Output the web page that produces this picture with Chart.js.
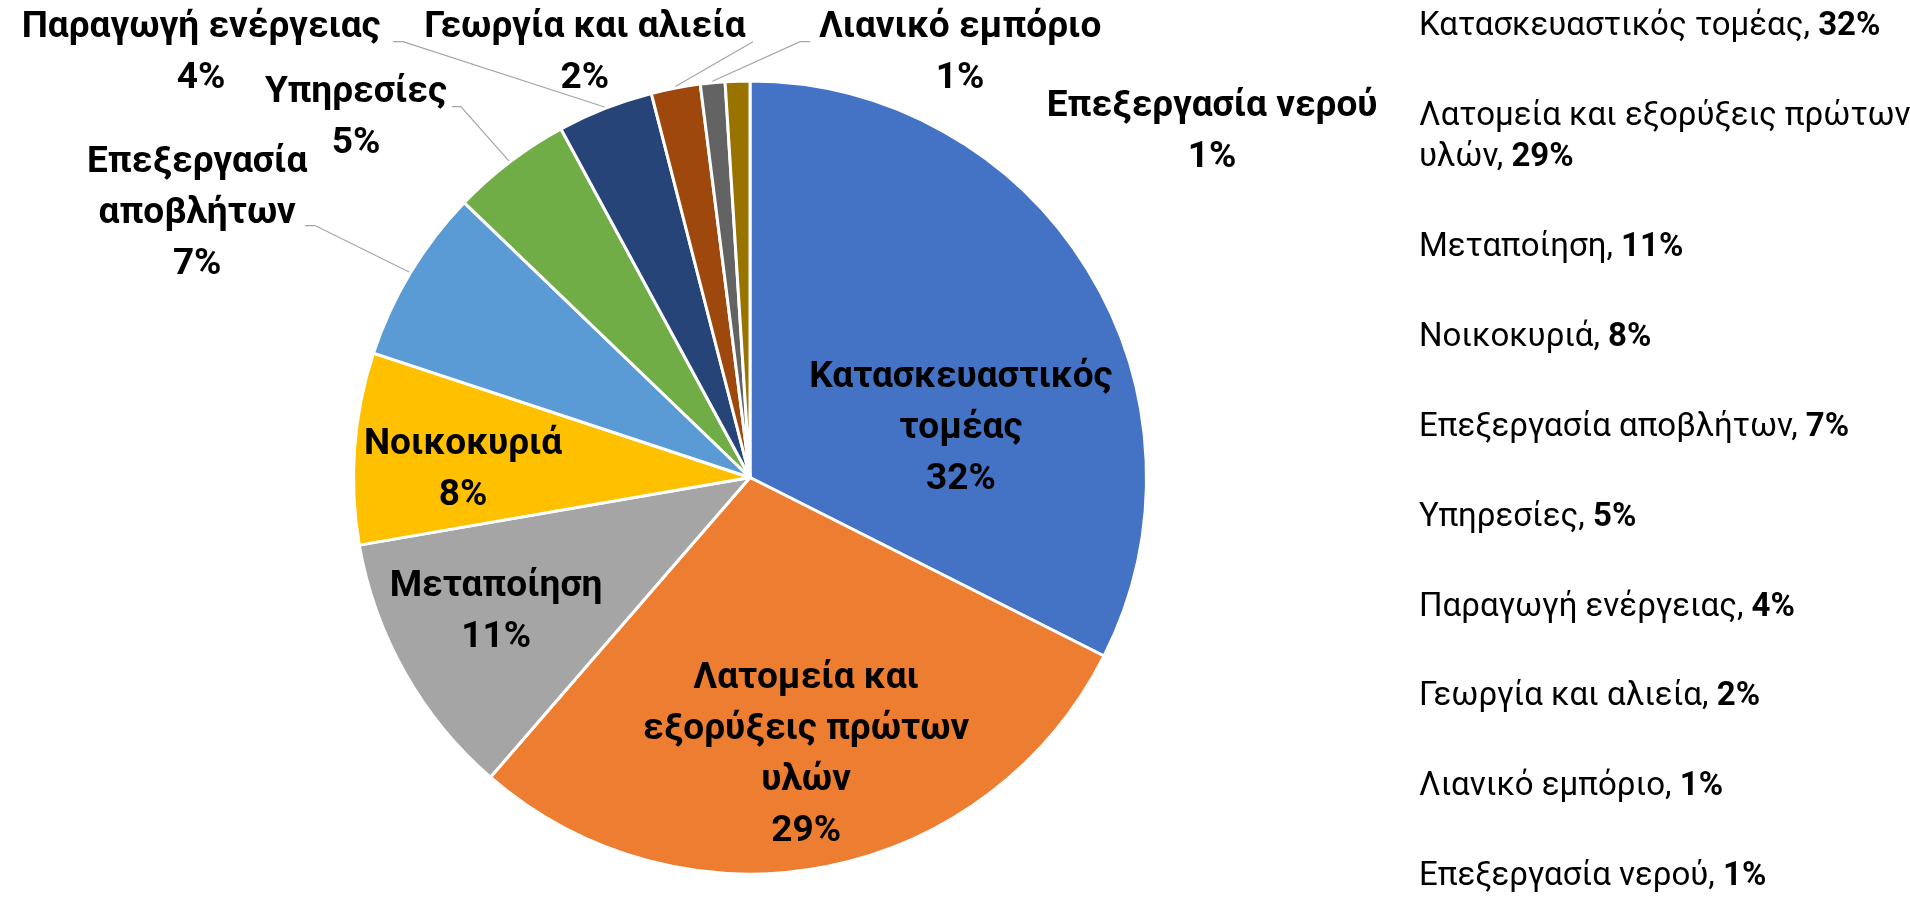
<!DOCTYPE html>
<html>
<head>
<meta charset="utf-8">
<script src="https://cdn.jsdelivr.net/npm/chart.js@4"></script>
<style>
  html, body { margin: 0; padding: 0; background: #fff; }
  #wrap { width: 1910px; height: 897px; position: relative; }
</style>
</head>
<body>
<div id="wrap"><canvas id="pieChart"></canvas></div>
<script>
// Sectors and their share (%)
const sectors = [
  'Κατασκευαστικός τομέας',
  'Λατομεία και εξορύξεις πρώτων υλών',
  'Μεταποίηση',
  'Νοικοκυριά',
  'Επεξεργασία αποβλήτων',
  'Υπηρεσίες',
  'Παραγωγή ενέργειας',
  'Γεωργία και αλιεία',
  'Λιανικό εμπόριο',
  'Επεξεργασία νερού'
];
const shares = [32.4, 28.9, 10.9, 7.8, 7.1, 4.9, 3.9, 2.0, 1.0, 1.0];
const sliceColors = ['#4472C4', '#ED7D31', '#A5A5A5', '#FFC000', '#5B9BD5',
                     '#70AD47', '#264478', '#9E480E', '#636363', '#997300'];

// label placement, in units of the pie radius from its centre
// (wrap = max line width, lead = start of the leader line, knee = short flat bit)
const labelSpots = [
  { dx: 0.53,   dy: -0.123, wrap: 320 },
  { dx: 0.141,  dy: 0.698,  wrap: 350 },
  { dx: -0.638, dy: 0.339,  wrap: 300 },
  { dx: -0.721, dy: -0.018, wrap: 300 },
  { dx: -1.389, dy: -0.663, wrap: 200, lead: [-1.118, -0.633], knee: 10 },
  { dx: -0.99,  dy: -0.902, wrap: 300, lead: [-0.749, -0.932], knee: 9 },
  { dx: -1.379, dy: -1.065, wrap: 420, lead: [-0.897, -1.095], knee: 10 },
  { dx: -0.415, dy: -1.065, wrap: 420, lead: [0.0075, -1.095], knee: 0 },
  { dx: 0.528,  dy: -1.065, wrap: 420, lead: [0.151, -1.095], knee: -10 },
  { dx: 1.161,  dy: -0.867, wrap: 420 }
];

const FONT = 'Roboto, "Noto Sans", sans-serif';
const total = shares.reduce((a, b) => a + b, 0);
const pct = (v) => Math.round(v / total * 100) + '%';

function wrapWords(ctx, text, maxW) {
  const words = text.split(' ');
  const lines = [];
  let line = '';
  words.forEach(w => {
    const test = line ? line + ' ' + w : w;
    if (line && ctx.measureText(test).width > maxW) {
      lines.push(line);
      line = w;
    } else {
      line = test;
    }
  });
  if (line) lines.push(line);
  return lines;
}

const sliceLabels = {
  id: 'sliceLabels',
  afterDatasetsDraw(chart) {
    const ctx = chart.ctx;
    const arcs = chart.getDatasetMeta(0).data;
    ctx.save();
    arcs.forEach((arc, i) => {
      const p = arc.getProps(['x', 'y', 'outerRadius', 'startAngle', 'endAngle'], true);
      const r = p.outerRadius + 1.5;
      const spot = labelSpots[i];

      // leader line
      if (spot.lead) {
        const mid = (p.startAngle + p.endAngle) / 2;
        const sx = p.x + spot.lead[0] * r;
        const sy = p.y + spot.lead[1] * r;
        ctx.strokeStyle = '#A6A6A6';
        ctx.lineWidth = 1.2;
        ctx.beginPath();
        ctx.moveTo(sx, sy);
        ctx.lineTo(sx + spot.knee, sy);
        ctx.lineTo(p.x + Math.cos(mid) * r, p.y + Math.sin(mid) * r);
        ctx.stroke();
      }

      ctx.font = 'bold 37px ' + FONT;
      ctx.fillStyle = '#000';
      ctx.textAlign = 'center';
      ctx.textBaseline = 'middle';
      const lines = wrapWords(ctx, sectors[i], spot.wrap);
      lines.push(pct(shares[i]));
      const lh = 51;
      const cx = p.x + spot.dx * r;
      let cy = p.y + spot.dy * r - (lines.length - 1) * lh / 2;
      lines.forEach(t => { ctx.fillText(t, cx, cy); cy += lh; });
    });
    ctx.restore();
  }
};

// text-only legend on the right: "name, **pct**"
const sideLegend = {
  id: 'sideLegend',
  afterDraw(chart) {
    const ctx = chart.ctx;
    const x0 = 1419, yFirst = 27, yLast = 877, lh = 41, maxW = 500;
    const reg = '33px ' + FONT, bold = 'bold 33px ' + FONT;
    ctx.save();
    ctx.fillStyle = '#000';
    ctx.textAlign = 'left';
    ctx.textBaseline = 'middle';

    const entries = sectors.map((name, i) => {
      const toks = name.split(' ').map(w => ({ t: w, f: reg }));
      toks[toks.length - 1].t += ',';
      toks.push({ t: pct(shares[i]), f: bold });
      const lines = [[]];
      let w = 0;
      toks.forEach(tok => {
        ctx.font = reg;
        const sp = ctx.measureText(' ').width;
        ctx.font = tok.f;
        const tw = ctx.measureText(tok.t).width;
        const need = (lines[lines.length - 1].length ? sp : 0) + tw;
        if (w + need > maxW && lines[lines.length - 1].length) {
          lines.push([tok]);
          w = tw;
        } else {
          lines[lines.length - 1].push(tok);
          w += need;
        }
      });
      return lines;
    });

    const nLines = entries.reduce((a, e) => a + e.length, 0);
    const step = (yLast - yFirst - (nLines - entries.length) * lh) / (entries.length - 1);
    let y = yFirst;
    entries.forEach(lines => {
      lines.forEach((line, li) => {
        let x = x0;
        line.forEach((tok, k) => {
          if (k > 0) { ctx.font = reg; x += ctx.measureText(' ').width; }
          ctx.font = tok.f;
          ctx.fillText(tok.t, x, y);
          x += ctx.measureText(tok.t).width;
        });
        if (li < lines.length - 1) y += lh;
      });
      y += step;
    });
    ctx.restore();
  }
};

new Chart(document.getElementById('pieChart'), {
  type: 'pie',
  data: {
    labels: sectors,
    datasets: [{
      data: shares,
      backgroundColor: sliceColors,
      borderColor: '#fff',
      borderWidth: 3
    }]
  },
  options: {
    responsive: true,
    maintainAspectRatio: false,
    animation: false,
    layout: { padding: { left: 352, right: 762, top: 78, bottom: 20 } },
    plugins: {
      legend: { display: false },
      tooltip: { enabled: false }
    }
  },
  plugins: [sliceLabels, sideLegend]
});
</script>
</body>
</html>
